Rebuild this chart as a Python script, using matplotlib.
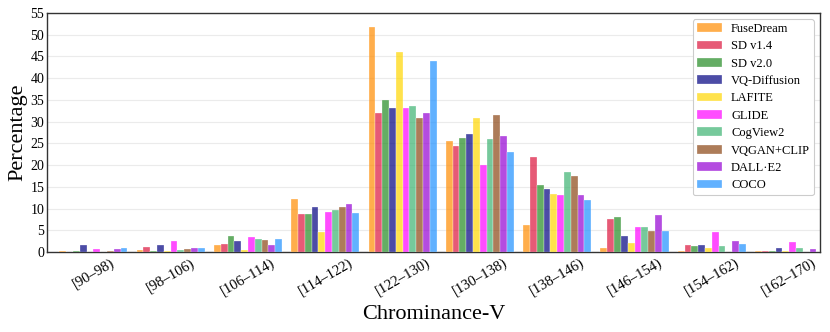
import numpy as np
import matplotlib
matplotlib.use('Agg')
import matplotlib.pyplot as plt

plt.rcParams['font.family'] = ['Liberation Serif', 'DejaVu Serif']

# chrominance-V bins
bins = ['[90–98)', '[98–106)', '[106–114)', '[114–122)', '[122–130)',
        '[130–138)', '[138–146)', '[146–154)', '[154–162)', '[162–170)']

models = ['FuseDream', 'SD v1.4', 'SD v2.0', 'VQ-Diffusion', 'LAFITE',
          'GLIDE', 'CogView2', 'VQGAN+CLIP', 'DALL·E2', 'COCO']

# percentage per bin, one list per model
fusedream = [0.2, 0.45, 1.7, 12.3, 51.7, 25.6, 6.2, 0.9, 0.2, 0.15]
sd14      = [0.0, 1.2, 1.9, 8.7, 31.9, 24.3, 21.8, 7.7, 1.6, 0.15]
sd20      = [0.2, 0.2, 3.7, 8.7, 34.9, 26.2, 15.5, 8.1, 1.3, 0.15]
vqdiff    = [1.7, 1.7, 2.5, 10.4, 33.1, 27.1, 14.5, 3.7, 1.6, 0.85]
lafite    = [0.0, 0.2, 0.5, 4.7, 45.9, 30.9, 13.4, 2.1, 0.85, 0.15]
glide     = [0.7, 2.5, 3.4, 9.3, 33.1, 19.9, 13.0, 5.7, 4.6, 2.4]
cogview2  = [0.0, 0.45, 3.0, 9.7, 33.6, 25.9, 18.5, 5.7, 1.4, 0.85]
vqgan     = [0.2, 0.7, 2.7, 10.4, 30.9, 31.6, 17.5, 4.9, 0.1, 0.0]
dalle2    = [0.7, 1.0, 1.7, 11.0, 31.9, 26.6, 13.2, 8.4, 2.6, 0.6]
coco      = [1.0, 1.0, 3.0, 9.0, 43.9, 22.9, 12.0, 4.9, 1.85, 0.0]

series = [fusedream, sd14, sd20, vqdiff, lafite, glide, cogview2, vqgan, dalle2, coco]
colors = ['darkorange', 'crimson', 'forestgreen', 'navy', 'gold',
          'magenta', 'mediumseagreen', 'saddlebrown', 'darkviolet', 'dodgerblue']

fig = plt.figure(figsize=(8.3, 3.32), dpi=100)
ax = fig.add_axes([0.0566, 0.241, 0.9314, 0.72])

x = np.arange(len(bins))
w = 0.088
for i, (vals, c, name) in enumerate(zip(series, colors, models)):
    ax.bar(x + (i - 4.5) * w, vals, w, color=c, alpha=0.7, label=name,
           edgecolor='white', linewidth=0.3, zorder=3)

ax.set_xlim(-0.6, 9.4)
ax.set_ylim(0, 55)
ax.set_yticks(np.arange(0, 56, 5))
ax.set_xticks(x)
ax.set_xticklabels(bins, rotation=30, ha='center', fontsize=10.5)
ax.tick_params(axis='y', labelsize=10, length=0, pad=2)
ax.tick_params(axis='x', length=0, pad=3)
ax.yaxis.grid(True, color='#ebebeb', linewidth=0.8, zorder=0)
ax.set_axisbelow(True)
for s in ax.spines.values():
    s.set_color('#333333')
    s.set_linewidth(1.0)

ax.set_xlabel('Chrominance-V', fontsize=16, labelpad=5)
ax.set_ylabel('Percentage', fontsize=16, labelpad=2)

leg = ax.legend(loc='upper right', fontsize=9, handlelength=2.0,
                labelspacing=0.43, borderpad=0.3, handletextpad=0.75,
                framealpha=1.0, edgecolor='#cccccc')
leg.get_frame().set_linewidth(0.8)

fig.savefig('out.png', dpi=100)
